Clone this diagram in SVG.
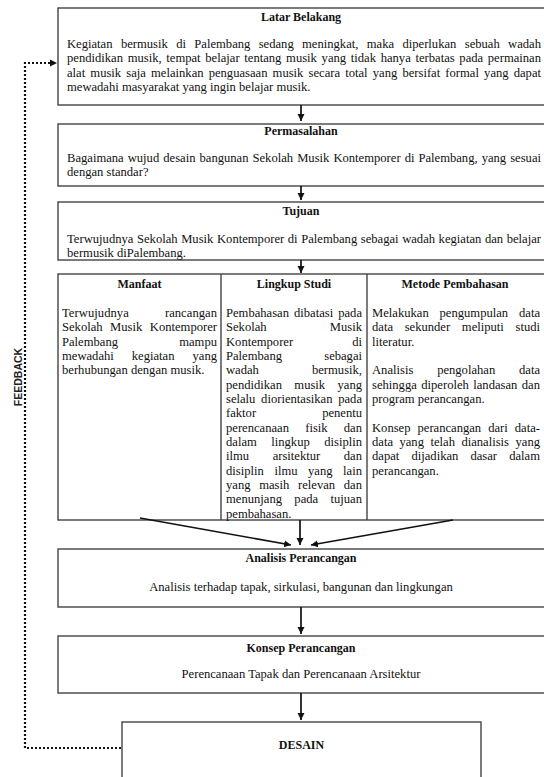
<svg xmlns="http://www.w3.org/2000/svg" width="544" height="777" viewBox="0 0 544 777">
<style>
.box{fill:#fff;stroke:#444;stroke-width:1.4}
.t{font-family:"Liberation Serif","Times New Roman",serif;font-size:12px;font-weight:bold;text-anchor:middle;fill:#111}
.b{font-family:"Liberation Serif","Times New Roman",serif;font-size:12.6px;fill:#111}
.c{text-anchor:middle}
.ar{stroke:#111;stroke-width:1.7;fill:none}
.fb{stroke:#111;stroke-width:2.2;stroke-dasharray:2 2;fill:none}
.fbt{font-family:"Liberation Sans",Arial,sans-serif;font-size:10.5px;font-weight:bold;fill:#222;text-anchor:middle}
</style>
<defs>
<marker id="ah" markerUnits="userSpaceOnUse" markerWidth="8" markerHeight="8" refX="7" refY="4" orient="auto">
<path d="M0,0.5 L7,4 L0,7.5 z" fill="#111"/>
</marker>
</defs>
<g id="latar-belakang">
<rect class="box" x="58" y="8" width="492" height="97"/>
<text class="t" x="301" y="21">Latar Belakang</text>
<text class="b" x="67" y="48" textLength="474" lengthAdjust="spacing" style="word-spacing:5.2px">Kegiatan bermusik di Palembang sedang meningkat, maka diperlukan sebuah wadah</text>
<text class="b" x="67" y="62.3" textLength="474" lengthAdjust="spacing" style="word-spacing:1.55px">pendidikan musik, tempat belajar tentang musik yang tidak hanya terbatas pada permainan</text>
<text class="b" x="67" y="76.6" textLength="474" lengthAdjust="spacing" style="word-spacing:2px">alat musik saja melainkan penguasaan musik secara total yang bersifat formal yang dapat</text>
<text class="b" x="67" y="90.9">mewadahi masyarakat yang ingin belajar musik.</text>
</g>
<g id="permasalahan">
<rect class="box" x="58" y="124" width="492" height="62"/>
<text class="t" x="301" y="135">Permasalahan</text>
<text class="b" x="67" y="162" textLength="474" lengthAdjust="spacing" style="word-spacing:0.9px">Bagaimana wujud desain bangunan Sekolah Musik Kontemporer di Palembang, yang sesuai</text>
<text class="b" x="67" y="176.3">dengan standar?</text>
</g>
<g id="tujuan">
<rect class="box" x="58" y="202" width="492" height="58"/>
<text class="t" x="301" y="215">Tujuan</text>
<text class="b" x="67" y="243" textLength="474" lengthAdjust="spacing" style="word-spacing:0.37px">Terwujudnya Sekolah Musik Kontemporer di Palembang sebagai wadah kegiatan dan belajar</text>
<text class="b" x="67" y="257.3">bermusik diPalembang.</text>
</g>
<g id="kolom">
<rect class="box" x="58" y="274" width="492" height="246"/>
<line class="box" x1="221" y1="274" x2="221" y2="520"/>
<line class="box" x1="367" y1="274" x2="367" y2="520"/>
</g>
<g id="manfaat">
<text class="t" x="139.5" y="288">Manfaat</text>
<text class="b" x="62" y="317" textLength="155" lengthAdjust="spacing" style="word-spacing:32.9px">Terwujudnya rancangan</text>
<text class="b" x="62" y="331.3" textLength="155" lengthAdjust="spacing" style="word-spacing:4.35px">Sekolah Musik Kontemporer</text>
<text class="b" x="62" y="345.7" textLength="155" lengthAdjust="spacing" style="word-spacing:58.1px">Palembang mampu</text>
<text class="b" x="62" y="360" textLength="155" lengthAdjust="spacing" style="word-spacing:14.9px">mewadahi kegiatan yang</text>
<text class="b" x="62" y="374.3">berhubungan dengan musik.</text>
</g>
<g id="lingkup-studi">
<text class="t" x="294" y="288">Lingkup Studi</text>
<text class="b" x="226" y="317" textLength="136" lengthAdjust="spacing" style="word-spacing:1.85px">Pembahasan dibatasi pada</text>
<text class="b" x="226" y="331.3" textLength="136" lengthAdjust="spacing" style="word-spacing:60px">Sekolah Musik</text>
<text class="b" x="226" y="345.7" textLength="136" lengthAdjust="spacing" style="word-spacing:55.9px">Kontemporer di</text>
<text class="b" x="226" y="360" textLength="136" lengthAdjust="spacing" style="word-spacing:39.1px">Palembang sebagai</text>
<text class="b" x="226" y="374.3" textLength="136" lengthAdjust="spacing" style="word-spacing:49.9px">wadah bermusik,</text>
<text class="b" x="226" y="388.7" textLength="136" lengthAdjust="spacing" style="word-spacing:9.2px">pendidikan musik yang</text>
<text class="b" x="226" y="403" textLength="136" lengthAdjust="spacing" style="word-spacing:2.55px">selalu diorientasikan pada</text>
<text class="b" x="226" y="417.3" textLength="136" lengthAdjust="spacing" style="word-spacing:62.9px">faktor penentu</text>
<text class="b" x="226" y="431.7" textLength="136" lengthAdjust="spacing" style="word-spacing:13.05px">perencanaan fisik dan</text>
<text class="b" x="226" y="446" textLength="136" lengthAdjust="spacing" style="word-spacing:11.3px">dalam lingkup disiplin</text>
<text class="b" x="226" y="460.3" textLength="136" lengthAdjust="spacing" style="word-spacing:20.4px">ilmu arsitektur dan</text>
<text class="b" x="226" y="474.7" textLength="136" lengthAdjust="spacing" style="word-spacing:7.4px">disiplin ilmu yang lain</text>
<text class="b" x="226" y="489" textLength="136" lengthAdjust="spacing" style="word-spacing:5.57px">yang masih relevan dan</text>
<text class="b" x="226" y="503.3" textLength="136" lengthAdjust="spacing" style="word-spacing:9.2px">menunjang pada tujuan</text>
<text class="b" x="226" y="517.7">pembahasan.</text>
</g>
<g id="metode-pembahasan">
<text class="t" x="455" y="288">Metode Pembahasan</text>
<text class="b" x="372" y="317" textLength="168" lengthAdjust="spacing" style="word-spacing:7.7px">Melakukan pengumpulan data</text>
<text class="b" x="372" y="331.3" textLength="168" lengthAdjust="spacing" style="word-spacing:8.53px">data sekunder meliputi studi</text>
<text class="b" x="372" y="345.7">literatur.</text>
<text class="b" x="372" y="374.3" textLength="168" lengthAdjust="spacing" style="word-spacing:20.65px">Analisis pengolahan data</text>
<text class="b" x="372" y="388.7" textLength="168" lengthAdjust="spacing" style="word-spacing:1.3px">sehingga diperoleh landasan dan</text>
<text class="b" x="372" y="403">program perancangan.</text>
<text class="b" x="372" y="431.7" textLength="168" lengthAdjust="spacing" style="word-spacing:3.87px">Konsep perancangan dari data-</text>
<text class="b" x="372" y="446" textLength="168" lengthAdjust="spacing" style="word-spacing:3.33px">data yang telah dianalisis yang</text>
<text class="b" x="372" y="460.3" textLength="168" lengthAdjust="spacing" style="word-spacing:9px">dapat dijadikan dasar dalam</text>
<text class="b" x="372" y="474.7">perancangan.</text>
</g>
<g id="analisis-perancangan">
<rect class="box" x="58" y="549" width="492" height="58"/>
<text class="t" x="301" y="562">Analisis Perancangan</text>
<text class="b c" x="301" y="591">Analisis terhadap tapak, sirkulasi, bangunan dan lingkungan</text>
</g>
<g id="konsep-perancangan">
<rect class="box" x="58" y="636" width="492" height="57"/>
<text class="t" x="301" y="652">Konsep Perancangan</text>
<text class="b c" x="301" y="678">Perencanaan Tapak dan Perencanaan Arsitektur</text>
</g>
<g id="desain">
<rect class="box" x="122" y="722" width="359" height="70"/>
<text class="t" x="301.5" y="749">DESAIN</text>
</g>
<g id="connectors">
<line class="ar" x1="301" y1="105" x2="301" y2="121" marker-end="url(#ah)"/>
<line class="ar" x1="301" y1="186" x2="301" y2="200" marker-end="url(#ah)"/>
<line class="ar" x1="301" y1="260" x2="301" y2="273" marker-end="url(#ah)"/>
<line class="ar" x1="140" y1="518" x2="291" y2="545" marker-end="url(#ah)"/>
<line class="ar" x1="300" y1="520" x2="300" y2="545" marker-end="url(#ah)"/>
<line class="ar" x1="453" y1="520" x2="311" y2="545" marker-end="url(#ah)"/>
<line class="ar" x1="301" y1="607" x2="301" y2="634" marker-end="url(#ah)"/>
<line class="ar" x1="301" y1="693" x2="301" y2="720" marker-end="url(#ah)"/>
<path class="fb" d="M121,748 H25 V63 H50"/>
<path d="M50,59.5 L57,63 L50,66.5 z" fill="#111"/>
<text class="fbt" transform="translate(22,377) rotate(-90)">FEEDBACK</text>
</g>
</svg>
